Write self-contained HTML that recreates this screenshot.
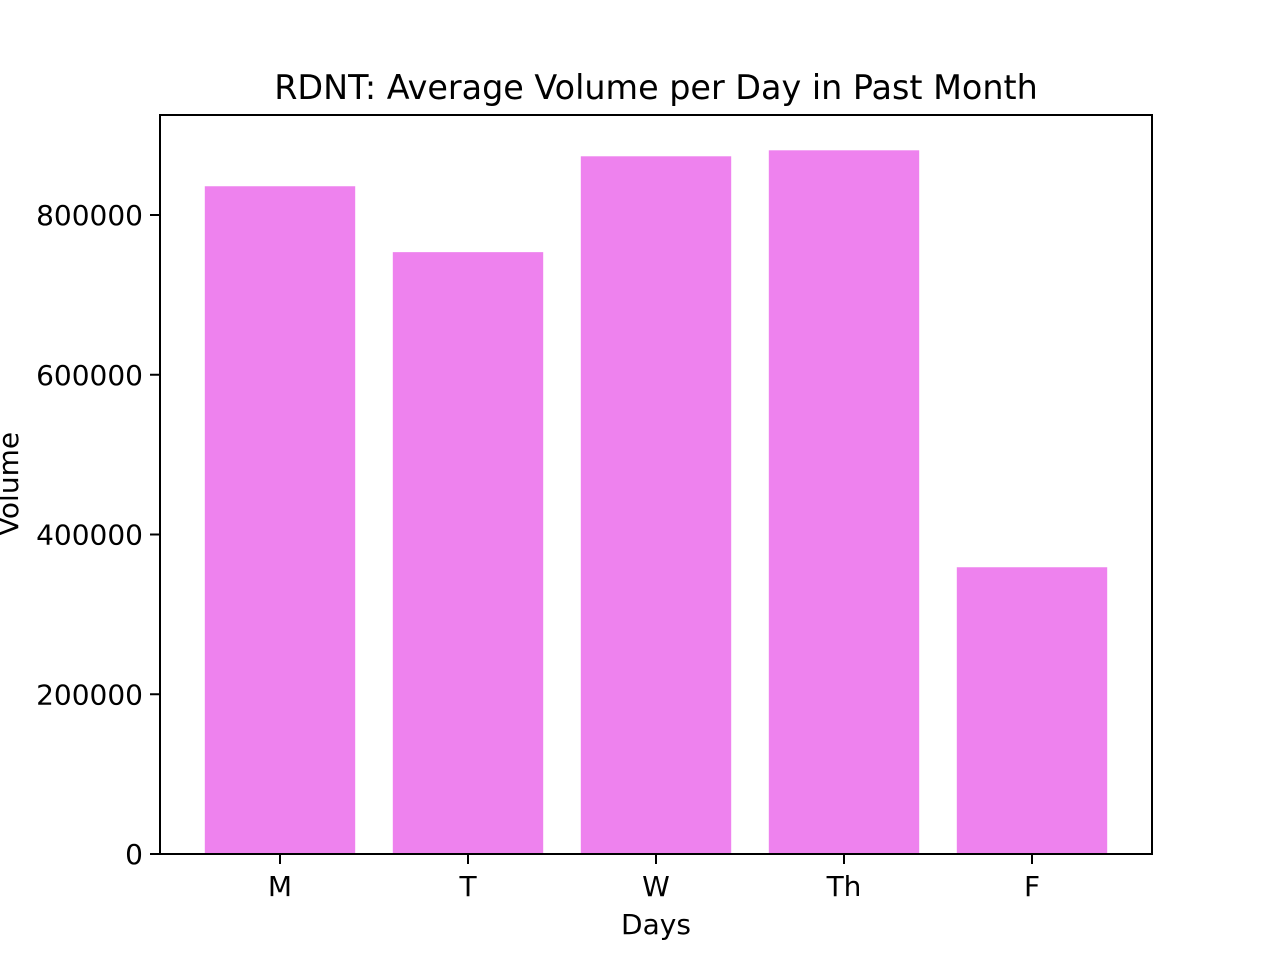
<!DOCTYPE html>
<html><head><meta charset="utf-8"><style>
body{margin:0;background:#fff;}
svg text{font-family:"DejaVu Sans","Liberation Sans",sans-serif;fill:#000;}
</style></head><body>
<svg id="chart" width="1280" height="960" xmlns="http://www.w3.org/2000/svg">
<rect width="1280" height="960" fill="#fff"/>
<text x="656" y="99" font-size="33.4" text-anchor="middle">RDNT: Average Volume per Day in Past Month</text>
<g id="bars"></g>
<g id="yticks"></g>
<g id="xticks"></g>
<rect x="160" y="115" width="992" height="739" fill="none" stroke="#000" stroke-width="2"/>
<text x="656" y="934" font-size="28" text-anchor="middle">Days</text>
<text transform="translate(18,484) rotate(-90)" font-size="28" text-anchor="middle">Volume</text>
</svg>
<script>
const categories=["M","T","W","Th","F"];
const volumes=[836000,753500,873500,881000,359000];
const yTicks=[0,200000,400000,600000,800000];
const yMax=925200;
const L=160,R=1152,T=115,B=854;
const ns="http://www.w3.org/2000/svg";
const step=(R-L)/(categories.length-1+1.2766);
const xPos=i=>L+step*0.6383+i*step;
const yPos=v=>B-(v/yMax)*(B-T);
const bars=document.getElementById('bars'),yt=document.getElementById('yticks'),xt=document.getElementById('xticks');
categories.forEach((c,i)=>{
 const r=document.createElementNS(ns,'rect');
 
 
 const w=step*0.8;
 r.setAttribute('x',xPos(i)-w/2);r.setAttribute('width',w);
 r.setAttribute('y',yPos(volumes[i]));r.setAttribute('height',B-yPos(volumes[i]));
 r.setAttribute('fill','#ee82ee');bars.appendChild(r);
 const l=document.createElementNS(ns,'line');
 
 
 l.setAttribute('x1',xPos(i));l.setAttribute('x2',xPos(i));l.setAttribute('y1',B);l.setAttribute('y2',B+10);
 l.setAttribute('stroke','#000');l.setAttribute('stroke-width','2');xt.appendChild(l);
 const t=document.createElementNS(ns,'text');
 
 
 t.setAttribute('x',xPos(i));t.setAttribute('y',B+42);t.setAttribute('font-size','28');t.setAttribute('text-anchor','middle');
 t.textContent=c;xt.appendChild(t);
});
yTicks.forEach(v=>{
 const y=yPos(v);
 const l=document.createElementNS(ns,'line');
 
 
 l.setAttribute('x1',L-10);l.setAttribute('x2',L);l.setAttribute('y1',y);l.setAttribute('y2',y);
 l.setAttribute('stroke','#000');l.setAttribute('stroke-width','2');yt.appendChild(l);
 const t=document.createElementNS(ns,'text');
 
 
 t.setAttribute('x',L-17);t.setAttribute('y',y+10);t.setAttribute('font-size','28');t.setAttribute('text-anchor','end');
 t.textContent=String(v);yt.appendChild(t);
});
</script>
</body></html>
